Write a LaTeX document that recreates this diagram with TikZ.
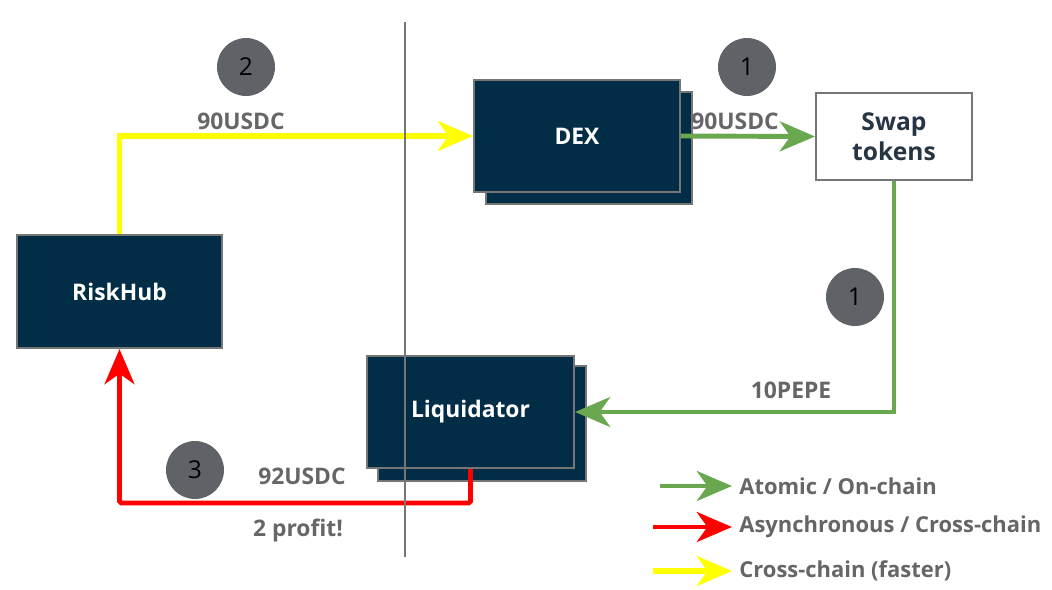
\documentclass[tikz,border=0pt]{standalone}
\usepackage{fontspec}
\setmainfont{Open Sans}
\usepackage{xcolor}
\usetikzlibrary{arrows.meta, positioning}

\definecolor{navy}{HTML}{022D47}
\definecolor{boxline}{HTML}{767676}
\definecolor{txtgray}{HTML}{666666}
\definecolor{swaptxt}{HTML}{263544}
\definecolor{dotgray}{HTML}{5F6368}
\definecolor{flowgreen}{HTML}{6AA84F}
\definecolor{flowred}{HTML}{FF0000}
\definecolor{flowyellow}{HTML}{FFFF00}

\begin{document}
\begin{tikzpicture}[
    x=0.02cm, y=-0.02cm,
    every node/.style={font=\fontsize{13}{15}\selectfont\bfseries},
    darkbox/.style={draw=boxline, line width=1.2pt, fill=navy, text=white, minimum width=4.12cm, minimum height=2.24cm, inner sep=0pt, font=\fontsize{13}{16}\selectfont\bfseries},
    plainbox/.style={draw=boxline, line width=1.2pt, fill=white, text=swaptxt, minimum width=3.12cm, minimum height=1.74cm, align=center, font=\fontsize{14}{17}\selectfont\bfseries},
    stepdot/.style={circle, fill=dotgray, minimum size=1.16cm, inner sep=0pt, text=black, font=\fontsize{14}{16}\selectfont},
    flowlbl/.style={text=txtgray},
    flow/.style={line width=2.8pt, -{Stealth[length=20pt, width=17pt, inset=6pt]}},
    atomic/.style={flow, draw=flowgreen},
    async/.style={flow, draw=flowred},
    fast/.style={flow, draw=flowyellow, line width=3.2pt}
]
\useasboundingbox (0,0) rectangle (1052,589);
% boxes (stacked ones drawn back first)
\node[darkbox, minimum width=4.1cm, minimum height=2.26cm] (riskhub) at (119.5,291.5) {RiskHub};
\node[darkbox] (dexback) at (589,148) {};
\node[darkbox] (dex) at (577,136) {DEX};
\node[plainbox] (swap) at (894,136.5) {Swap\\tokens};
\node[darkbox, minimum width=4.16cm, minimum height=2.3cm] (liqback) at (482,423.5) {};
\node[darkbox, minimum width=4.14cm] (liq) at (470.5,412) {Liquidator};
% flows
\draw[fast] (riskhub.north) |- (dex.west);
\draw[atomic] (dex.east) -- (swap.west);
\draw[atomic] (swap.south) |- (liq.east);
\coordinate (retcorner) at (470.5,503);
\draw[async, rounded corners=1pt] (liq.south) -- (retcorner) -| (riskhub.south);
% chain boundary
\coordinate (divtop) at (405,22);
\coordinate (divbot) at (405,557);
\draw[boxline, line width=0.6pt] (divtop) -- (divbot);
% labels
\node[flowlbl] (lblusdcA) at (241,121) {90USDC};
\node[flowlbl] (lblusdcB) at (735,121) {90USDC};
\node[flowlbl] (lblpepe) at (791,390) {10PEPE};
\node[flowlbl] (lblret) at (302,476) {92USDC};
\node[flowlbl] (lblprofit) at (298,530) {2 profit!};
% step markers
\node[stepdot] (stepA) at (246,67) {2};
\node[stepdot] (stepB) at (747,67) {1};
\node[stepdot] (stepC) at (855,297) {1};
\node[stepdot] (stepD) at (195,470) {3};
% legend
\foreach \i/\y/\x/\sty/\lbl in {1/486/660/atomic/{Atomic / On-chain}, 2/527/653/async/{Asynchronous / Cross-chain}, 3/571/653/fast/{Cross-chain (faster)}}{
  \node[flowlbl, anchor=west, inner xsep=4pt, font=\fontsize{12.5}{15}\selectfont\bfseries] (legtxt\i) at (732,\y) {\lbl};
  \coordinate (legstart\i) at (\x,\y);
  \draw[\sty] (legstart\i) -- (legtxt\i.west);
}
\end{tikzpicture}
\end{document}
